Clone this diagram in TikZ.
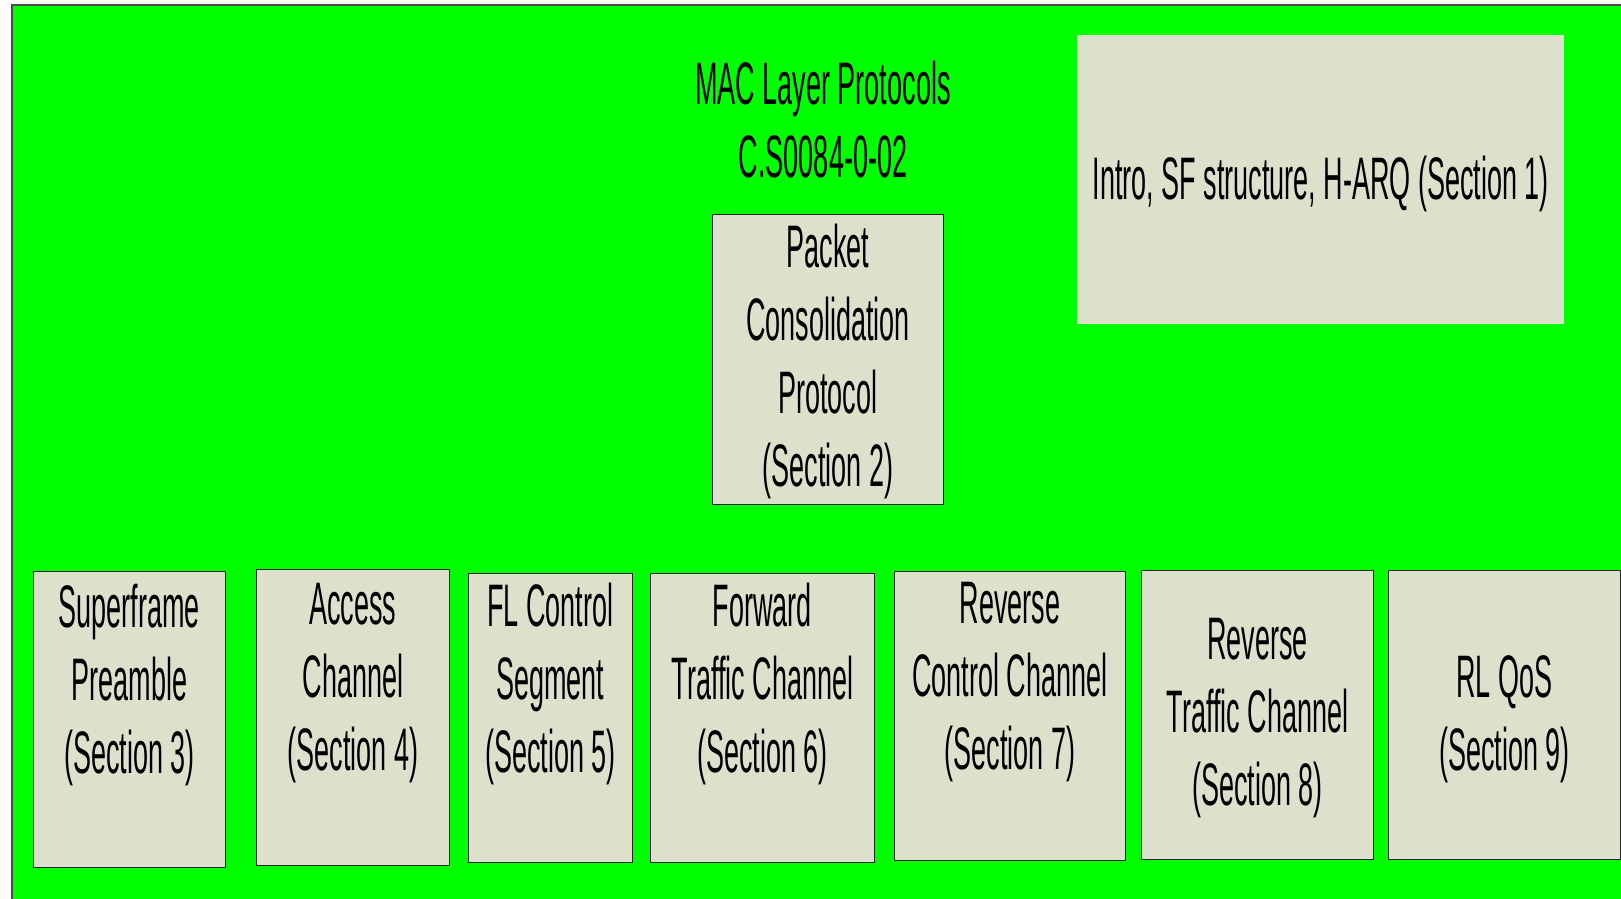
\documentclass[tikz,border=0pt]{standalone}
\usepackage{fontspec}
\newfontfamily\narrowsf{Liberation Sans}[FakeStretch=0.45]
\usepackage{tikz}
\definecolor{bg}{RGB}{0,255,0}
\definecolor{boxc}{RGB}{221,224,203}
\begin{document}
\begin{tikzpicture}[x=1pt, y=-1pt,
  txt/.style={font=\narrowsf\fontsize{60}{73}\selectfont, align=center},
  sec/.style={txt, draw=black!85, line width=0.9pt, fill=boxc, inner sep=0pt, anchor=north west}]
\useasboundingbox (0,0) rectangle (1621,898);
\fill[white] (0,0) rectangle (1621,898);
\draw[fill=bg, draw=black!70, line width=2pt] (12,5) rectangle (1625,902);
\node[txt] (title) at (823,120) {MAC Layer Protocols\\C.S0084-0-02};
\node[txt, fill=boxc, inner sep=0pt, minimum width=487, minimum height=289, anchor=north west] (intro) at (1077,35) {\rule{0pt}{52pt}Intro, SF structure, H-ARQ (Section 1)};
\node[sec, minimum width=231, minimum height=290] (pcp) at (712,214) {\rule{0pt}{48pt}Packet\\Consolidation\\Protocol\\(Section 2)};
\foreach \name/\x/\y/\w/\h/\lbl in {
  sf/33/571/192/296/{Superframe\\Preamble\\(Section 3)\\[-14pt]\strut},
  ac/256/569/193/296/{Access\\Channel\\(Section 4)\\[-14pt]\strut},
  flc/468/573/164/289/{FL Control\\Segment\\(Section 5)\\[-14pt]\strut},
  ftc/650/573/224/289/{Forward\\Traffic Channel\\(Section 6)\\[-14pt]\strut},
  rcc/894/571/231/289/{Reverse\\Control Channel\\(Section 7)\\[-14pt]\strut},
  rtc/1141/570/232/289/{\rule{0pt}{48pt}Reverse\\Traffic Channel\\(Section 8)},
  qos/1388/570/232/289/{\rule{0pt}{50pt}RL QoS\\(Section 9)}}{
\node[sec, minimum width=\w, minimum height=\h] (\name) at (\x,\y) {\lbl};
}
\end{tikzpicture}
\end{document}
